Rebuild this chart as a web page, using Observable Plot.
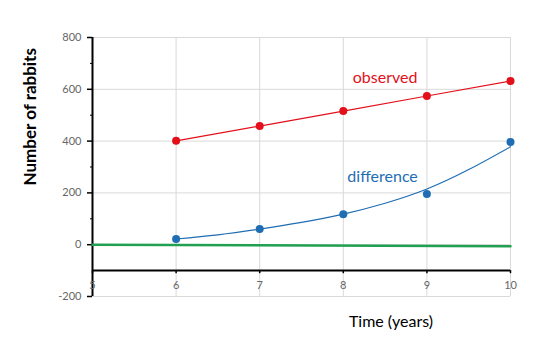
<!DOCTYPE html>
<html>
<head>
<meta charset="utf-8">
<script src="https://cdn.jsdelivr.net/npm/d3@7"></script>
<script src="https://cdn.jsdelivr.net/npm/@observablehq/plot@0.6"></script>
<style>
  html, body { margin: 0; padding: 0; background: #fff; }
  #chart svg { display: block; }
</style>
</head>
<body>
<div id="chart"></div>
<script>
// Data
const years = [6, 7, 8, 9, 10];
const observed = [401, 458, 516, 574, 632];
const difference = [22, 61, 118, 196, 397];
// Exponential-looking trend line through "difference"
const trendX = [6, 6.5, 7, 7.5, 8, 8.5, 9, 9.5, 10];
const trendY = [22, 38, 60, 86, 118, 160, 215, 290, 378];
// Green near-zero line
const greenX = [5, 10];
const greenY = [0, -6];
const xTicks = [5, 6, 7, 8, 9, 10];
const yTicks = [-200, 0, 200, 400, 600, 800];
const yMinor = [700, 500, 300, 100];
const xAxisAt = -100;

const obsData = years.map((x, i) => ({x, y: observed[i]}));
const diffData = years.map((x, i) => ({x, y: difference[i]}));
const trendData = trendX.map((x, i) => ({x, y: trendY[i]}));
const greenData = greenX.map((x, i) => ({x, y: greenY[i]}));

const RED = "#e3101b";
const BLUE = "#1f6db3";
const GREEN = "#21a052";
const GRID = "#d9d9d9";
const TICK = "#666666";

const chart = Plot.plot({
  width: 554,
  height: 352,
  marginLeft: 92,
  marginRight: 44,
  marginTop: 37,
  marginBottom: 56,
  style: {fontFamily: "Lato, 'Open Sans', sans-serif", background: "#fff", overflow: "visible"},
  x: {domain: [5, 10], axis: null},
  y: {domain: [-200, 800], axis: null},
  marks: [
    Plot.gridY(yTicks, {stroke: GRID, strokeOpacity: 1, strokeWidth: 1}),
    Plot.gridX(xTicks.slice(1), {stroke: GRID, strokeOpacity: 1, strokeWidth: 1}),
    // y axis
    Plot.axisY(yTicks, {tickSize: 5, tickPadding: 6, fontSize: 11, color: TICK, stroke: "#000", strokeWidth: 1.5, label: null, tickFormat: d => String(d)}),
    Plot.axisY(yMinor, {tickSize: 2, text: null, stroke: "#000", label: null}),
    Plot.ruleX([5], {y1: -200, y2: 800, stroke: "#000", strokeWidth: 2}),
    // x axis at y = -100
    Plot.ruleY([xAxisAt], {x1: 5, x2: 10, stroke: "#000", strokeWidth: 2}),
    Plot.ruleX(xTicks, {y1: xAxisAt, y2: xAxisAt - 12, stroke: "#000", strokeWidth: 1.5}),
    Plot.text(xTicks, {x: d => d, y: xAxisAt, dy: 15, text: d => String(d), fontSize: 11, fill: TICK}),
    // series
    Plot.line(greenData, {x: "x", y: "y", stroke: GREEN, strokeWidth: 2.5}),
    Plot.line(obsData, {x: "x", y: "y", stroke: RED, strokeWidth: 1.2}),
    Plot.dot(obsData, {x: "x", y: "y", fill: RED, r: 4}),
    Plot.line(trendData, {x: "x", y: "y", stroke: BLUE, strokeWidth: 1.2, curve: "natural"}),
    Plot.dot(diffData, {x: "x", y: "y", fill: BLUE, r: 4}),
    // labels
    Plot.text(["observed"], {x: 8.5, y: 646, fontSize: 16, fill: RED}),
    Plot.text(["difference"], {x: 8.47, y: 262, fontSize: 16, fill: BLUE}),
    Plot.text(["Number of rabbits"], {x: 5, y: 494, dx: -62, rotate: -90, fontSize: 17, fontWeight: "bold", fill: "#000"}),
    Plot.text(["Time (years)"], {x: 8.57, y: -200, dy: 25, fontSize: 16, fill: "#000"})
  ]
});
document.getElementById("chart").appendChild(chart);
</script>
</body>
</html>
